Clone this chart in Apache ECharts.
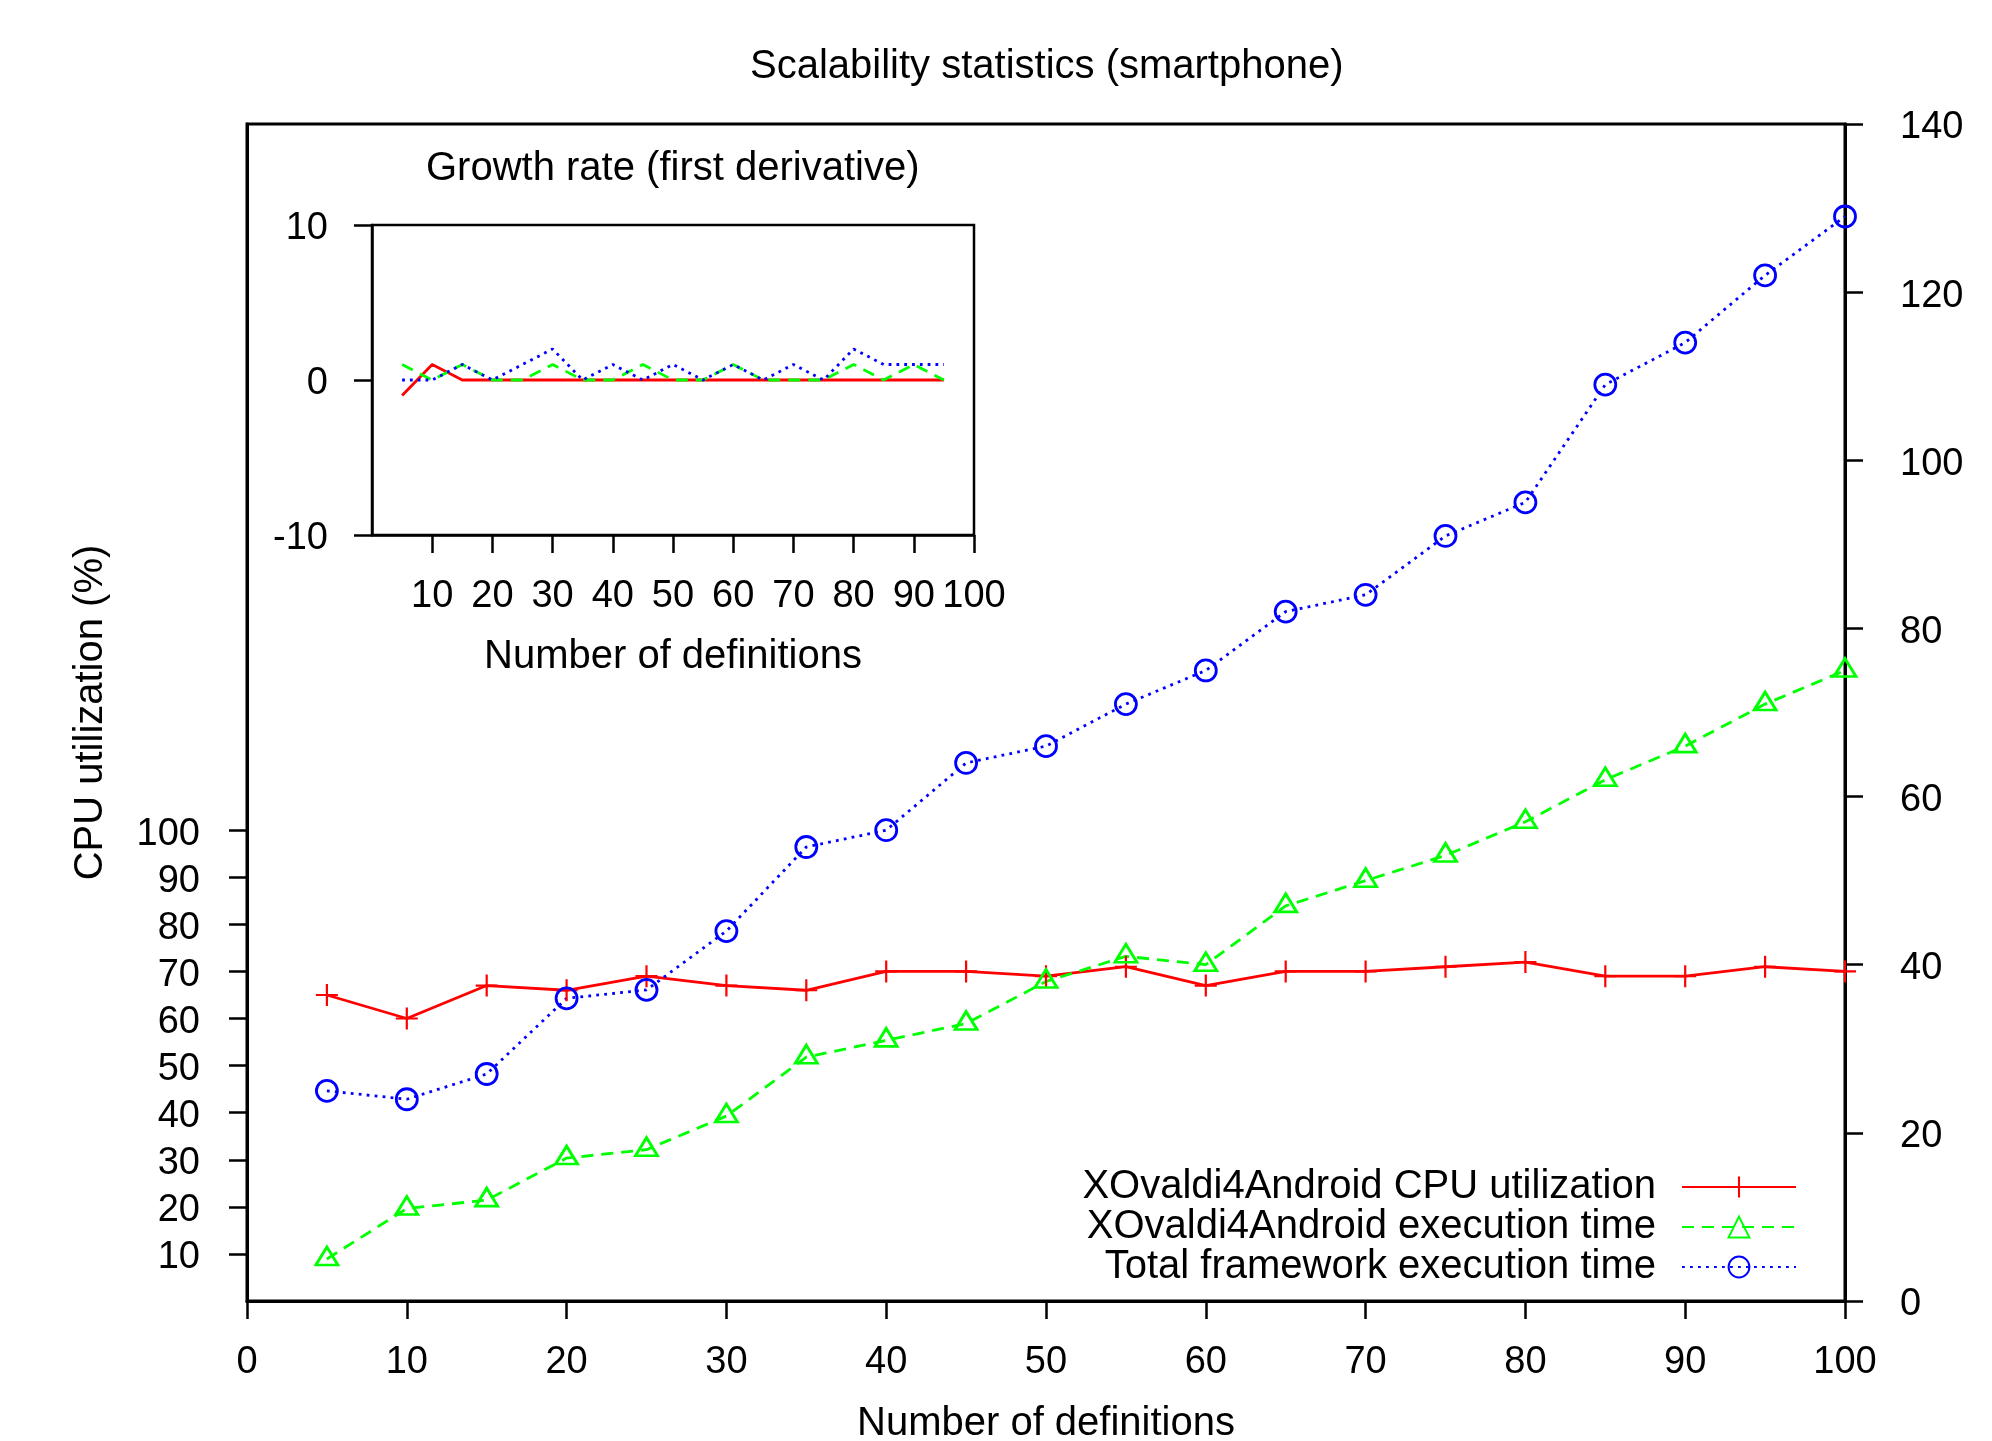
<!DOCTYPE html>
<html>
<head>
<meta charset="utf-8">
<script src="https://cdn.jsdelivr.net/npm/echarts@6/dist/echarts.min.js"></script>
<style>
html,body{margin:0;padding:0;background:#fff;}
#chart{width:1992px;height:1441px;}
</style>
</head>
<body>
<div id="chart"></div>
<script>
// ---- Data ----
const definitions = [5,10,15,20,25,30,35,40,45,50,55,60,65,70,75,80,85,90,95,100];
const cpuUtilization = [65,60,67,66,69,67,66,70,70,69,71,67,70,70,71,72,69,69,71,70];
const xovaldiExecTime = [5,11,12,17,18,22,29,31,33,38,41,40,47,50,53,57,62,66,71,75];
const totalExecTime = [25,24,27,36,37,44,54,56,64,66,71,75,82,84,91,95,109,114,122,129];

const growthX = [5,10,15,20,25,30,35,40,45,50,55,60,65,70,75,80,85,90,95];
const growthCpu = [-1,1,0,0,0,0,0,0,0,0,0,0,0,0,0,0,0,0,0];
const growthXovaldi = [1,0,1,0,0,1,0,0,1,0,0,1,0,0,0,1,0,1,0];
const growthTotal = [0,0,1,0,1,2,0,1,0,1,0,1,0,1,0,2,1,1,1];

const cpuTickValues = [10,20,30,40,50,60,70,80,90,100];
const insetXTickValues = [10,20,30,40,50,60,70,80,90,100];

const seriesNames = [
  'XOvaldi4Android CPU utilization',
  'XOvaldi4Android execution time',
  'Total framework execution time'
];

// ---- Chart ----
const FONT = '"Liberation Sans", Arial, Helvetica, sans-serif';
const RED = '#ff0000', GREEN = '#00ff00', BLUE = '#0000ff';
const PLUS = 'path://M9,0H11V20H9Z M0,9H20V11H0Z';

function pairs(xs, ys) { return xs.map((x, i) => [x, ys[i]]); }

const tickStyle = { show: true, length: 18, lineStyle: { color: '#000', width: 2.5 } };
const labelStyle = { color: '#000', fontSize: 38, fontFamily: FONT };
// y-axis labels: shifted down a few pixels to sit like the reference
const yLabelStyle = {
  color: '#000', fontSize: 38, fontFamily: FONT,
  formatter: function (v) { return '{t|' + v + '}'; },
  rich: { t: { color: '#000', fontSize: 38, fontFamily: FONT, padding: [8, 0, 0, 0] } }
};
const nameStyle = { color: '#000', fontSize: 40, fontFamily: FONT };

const chart = echarts.init(document.getElementById('chart'), null, { renderer: 'canvas' });

const option = {
  animation: false,
  backgroundColor: '#ffffff',
  textStyle: { fontFamily: FONT, color: '#000' },
  title: [
    {
      text: 'Scalability statistics (smartphone)',
      left: 750, top: 47, padding: 0,
      textStyle: { fontSize: 40, fontWeight: 'normal', color: '#000', fontFamily: FONT }
    },
    {
      text: 'Growth rate (first derivative)',
      left: 426, top: 149, padding: 0,
      textStyle: { fontSize: 40, fontWeight: 'normal', color: '#000', fontFamily: FONT }
    }
  ],
  legend: {
    data: seriesNames,
    orient: 'vertical',
    align: 'right',
    right: 195,
    top: 1167,
    padding: 0,
    itemWidth: 114,
    itemHeight: 26,
    itemGap: 0,
    selectedMode: false,
    textStyle: { fontSize: 40, lineHeight: 40, color: '#000', fontFamily: FONT, padding: [0, 21, 0, 0] }
  },
  grid: [
    { left: 247, top: 124, width: 1598, height: 1177, show: true, borderColor: '#000', borderWidth: 3,
      backgroundColor: 'rgba(0,0,0,0)', containLabel: false, outerBoundsMode: 'none' },
    { left: 372, top: 225, width: 602, height: 310, show: true, borderColor: '#000', borderWidth: 2.5,
      backgroundColor: 'rgba(0,0,0,0)', containLabel: false, outerBoundsMode: 'none' }
  ],
  xAxis: [
    {
      gridIndex: 0, type: 'value', min: 0, max: 100, interval: 10,
      name: 'Number of definitions', nameLocation: 'middle', nameGap: 103, nameMoveOverlap: false,
      nameTextStyle: nameStyle,
      axisLine: { show: true, onZero: false, lineStyle: { color: '#000', width: 3 } },
      axisTick: tickStyle,
      axisLabel: Object.assign({ margin: 43 }, labelStyle),
      splitLine: { show: false }
    },
    {
      gridIndex: 1, type: 'value', min: 0, max: 100, interval: 10,
      name: 'Number of definitions', nameLocation: 'middle', nameGap: 102, nameMoveOverlap: false,
      nameTextStyle: nameStyle,
      axisLine: { show: true, onZero: false, lineStyle: { color: '#000', width: 2.5 } },
      axisTick: Object.assign({ customValues: insetXTickValues }, tickStyle),
      axisLabel: Object.assign({ margin: 43, customValues: insetXTickValues }, labelStyle),
      splitLine: { show: false }
    }
  ],
  yAxis: [
    {
      gridIndex: 0, type: 'value', position: 'left', min: 0, max: 250, interval: 10,
      name: 'CPU utilization (%)', nameLocation: 'middle', nameGap: 136, nameRotate: 90, nameMoveOverlap: false,
      nameTextStyle: nameStyle,
      axisLine: { show: true, onZero: false, lineStyle: { color: '#000', width: 3 } },
      axisTick: Object.assign({ customValues: cpuTickValues }, tickStyle),
      axisLabel: Object.assign({ margin: 47, customValues: cpuTickValues }, yLabelStyle),
      splitLine: { show: false }
    },
    {
      gridIndex: 0, type: 'value', position: 'right', min: 0, max: 140, interval: 20,
      axisLine: { show: true, onZero: false, lineStyle: { color: '#000', width: 3 } },
      axisTick: tickStyle,
      axisLabel: Object.assign({ margin: 55 }, yLabelStyle),
      splitLine: { show: false }
    },
    {
      gridIndex: 1, type: 'value', min: -10, max: 10, interval: 10,
      axisLine: { show: true, onZero: false, lineStyle: { color: '#000', width: 2.5 } },
      axisTick: tickStyle,
      axisLabel: Object.assign({ margin: 44 }, yLabelStyle),
      splitLine: { show: false }
    }
  ],
  series: [
    {
      name: seriesNames[0], type: 'line', xAxisIndex: 0, yAxisIndex: 0,
      data: pairs(definitions, cpuUtilization),
      symbol: PLUS, symbolSize: 22, clip: false, silent: true,
      lineStyle: { color: RED, width: 2.8, type: 'solid' },
      itemStyle: { color: RED }
    },
    {
      name: seriesNames[1], type: 'line', xAxisIndex: 0, yAxisIndex: 1,
      data: pairs(definitions, xovaldiExecTime),
      symbol: 'triangle', symbolSize: [22, 18], symbolOffset: [0, -3], clip: false, silent: true,
      lineStyle: { color: GREEN, width: 2.8, type: [12, 8] },
      itemStyle: { color: 'rgba(0,0,0,0)', borderColor: GREEN, borderWidth: 2.8 }
    },
    {
      name: seriesNames[2], type: 'line', xAxisIndex: 0, yAxisIndex: 1,
      data: pairs(definitions, totalExecTime),
      symbol: 'circle', symbolSize: 21, clip: false, silent: true,
      lineStyle: { color: BLUE, width: 2.8, type: [2.8, 5.2] },
      itemStyle: { color: 'rgba(0,0,0,0)', borderColor: BLUE, borderWidth: 2.8 }
    },
    {
      name: 'CPU utilization growth', type: 'line', xAxisIndex: 1, yAxisIndex: 2,
      data: pairs(growthX, growthCpu), symbol: 'none', silent: true,
      lineStyle: { color: RED, width: 2.8, type: 'solid' }
    },
    {
      name: 'XOvaldi4Android execution time growth', type: 'line', xAxisIndex: 1, yAxisIndex: 2,
      data: pairs(growthX, growthXovaldi), symbol: 'none', silent: true,
      lineStyle: { color: GREEN, width: 2.8, type: [12, 8] }
    },
    {
      name: 'Total framework execution time growth', type: 'line', xAxisIndex: 1, yAxisIndex: 2,
      data: pairs(growthX, growthTotal), symbol: 'none', silent: true,
      lineStyle: { color: BLUE, width: 2.8, type: [2.8, 5] }
    }
  ]
};

chart.setOption(option);
</script>
</body>
</html>
